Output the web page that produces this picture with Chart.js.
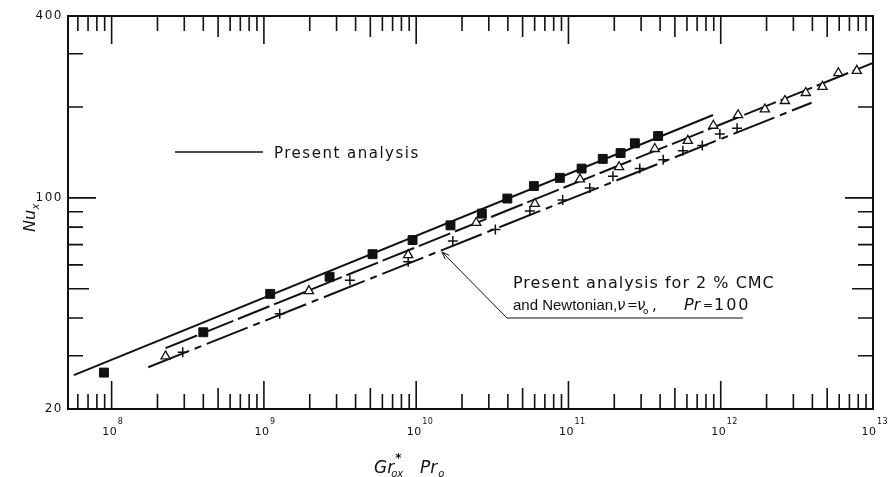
<!DOCTYPE html>
<html>
<head>
<meta charset="utf-8">
<script src="https://cdn.jsdelivr.net/npm/chart.js@4.4.0/dist/chart.umd.min.js"></script>
<style>
  html, body { margin: 0; padding: 0; background: #fff; }
  #wrap { width: 888px; height: 477px; position: relative; }
</style>
</head>
<body>
<div id="wrap"><canvas id="c"></canvas></div>
<script>
// ---- data (Gr*ox Pr0 vs Nu_x) ----
const squaresX = [8.9e7, 4.0e8, 1.1e9, 2.7e9, 5.17e9, 9.47e9, 1.68e10, 2.70e10, 3.97e10, 5.93e10, 8.78e10, 1.22e11, 1.68e11, 2.20e11, 2.73e11, 3.88e11];
const squaresY = [26.4, 35.9, 48.1, 54.8, 65.1, 72.5, 81.1, 88.7, 99.5, 109.4, 116.5, 125.0, 134.6, 140.7, 151.6, 160.2];

const trianglesX = [2.26e8, 1.975e9, 8.86e9, 2.48e10, 6.02e10, 1.19e11, 2.15e11, 3.69e11, 6.08e11, 8.94e11, 1.30e12, 1.95e12, 2.64e12, 3.62e12, 4.66e12, 5.92e12, 7.83e12];
const trianglesY = [29.9, 49.2, 64.7, 82.7, 95.6, 115.2, 126.5, 145.3, 154.6, 173.5, 188.0, 196.4, 209.5, 222.7, 233.4, 259.0, 263.7];

const plusesX = [2.93e8, 1.27e9, 3.67e9, 8.86e9, 1.74e10, 3.31e10, 5.58e10, 9.16e10, 1.38e11, 1.96e11, 2.94e11, 4.19e11, 5.64e11, 7.57e11, 9.87e11, 1.28e12];
const plusesY = [30.8, 41.3, 53.4, 61.4, 72.0, 78.6, 90.4, 98.3, 107.9, 117.8, 125.2, 133.7, 143.1, 149.0, 162.7, 169.9];

// analysis curves (end points)
const lineTopX = [5.65e7, 8.91e11];
const lineTopY = [25.9, 188.0];
const lineMidX = [2.26e8, 1e13];
const lineMidY = [31.8, 279.5];
const lineLowX = [1.74e8, 3.95e12];
const lineLowY = [27.5, 206.5];

// axes
const xMin = 5.17e7, xMax = 1e13;
const yMin = 20, yMax = 400;
const xMajorValues = [1e8, 1e9, 1e10, 1e11, 1e12, 1e13];
const xMajorExponents = ['8', '9', '10', '11', '12', '13'];
const yTickValues = [20, 30, 40, 50, 60, 70, 80, 90, 100, 200, 300, 400];
const yLabelValues = [20, 100, 400];
const yLabelTexts = ['20', '100', '400'];

// ---- helpers ----
const ink = '#111';
const FONT = '"DejaVu Sans", sans-serif';
const FONT2 = '"Liberation Sans", Arial, sans-serif';
const toPts = (xs, ys) => xs.map((v, i) => ({ x: v, y: ys[i] }));

// tick positions on x: mantissas 1..9 of every decade shown
const xTickValues = [];
for (let e = 7; e <= 12; e++) {
  for (let m = 1; m <= 9; m++) {
    const v = m * Math.pow(10, e);
    if (v > xMin && v <= xMax) xTickValues.push(v);
  }
}
xTickValues.push(1e13);

function mantissa(v) {
  const e = Math.floor(Math.log10(v) + 1e-9);
  return Math.round(v / Math.pow(10, e));
}
function tickLen(v) {
  const m = mantissa(v);
  if (m === 1) return 28;
  if (m === 5) return 21;
  return 15;
}

const decor = {
  id: 'decor',
  beforeDraw(chart) {
    chart.ctx.letterSpacing = '1.5px';
  },
  afterDraw(chart) {
    const { ctx, chartArea: a, scales: { x, y } } = chart;
    ctx.save();
    ctx.strokeStyle = ink;
    ctx.fillStyle = ink;

    // frame
    ctx.lineWidth = 2;
    ctx.strokeRect(a.left, a.top, a.right - a.left, a.bottom - a.top);

    // inward ticks on all four sides
    ctx.lineWidth = 1.6;
    ctx.beginPath();
    xTickValues.forEach(v => {
      const px = x.getPixelForValue(v);
      if (px <= a.left + 1 || px >= a.right - 1) return;
      const len = tickLen(v);
      ctx.moveTo(px, a.bottom); ctx.lineTo(px, a.bottom - len);
      ctx.moveTo(px, a.top); ctx.lineTo(px, a.top + len);
    });
    yTickValues.forEach(v => {
      const py = y.getPixelForValue(v);
      if (py <= a.top + 1 || py >= a.bottom - 1) return;
      const len = tickLen(v);
      ctx.moveTo(a.left, py); ctx.lineTo(a.left + len, py);
      ctx.moveTo(a.right, py); ctx.lineTo(a.right - len, py);
    });
    ctx.stroke();

    // x tick labels 10^n
    ctx.letterSpacing = '0.5px';
    ctx.textBaseline = 'alphabetic';
    ctx.textAlign = 'left';
    xMajorValues.forEach((v, i) => {
      const px = x.getPixelForValue(v);
      ctx.font = '11px ' + FONT;
      const w = ctx.measureText('10').width;
      const shift = i === xMajorValues.length - 1 ? 4 : 2;
      ctx.fillText('10', px - w / 2 - shift, 435);
      ctx.font = '8px ' + FONT;
      ctx.fillText(xMajorExponents[i], px + w / 2 - shift + 0.5, 424);
    });

    // axis titles
    ctx.letterSpacing = '0px';
    ctx.font = 'italic 17px ' + FONT;
    ctx.fillText('Gr', 374, 473);
    const wGr = ctx.measureText('Gr').width;
    ctx.font = 'bold 12px ' + FONT;
    ctx.fillText('*', 374 + wGr + 1, 462);
    ctx.font = 'italic 10px ' + FONT;
    ctx.fillText('ox', 374 + wGr - 3, 477);
    ctx.font = 'italic 17px ' + FONT;
    ctx.fillText('Pr', 420, 473);
    const wPr = ctx.measureText('Pr').width;
    ctx.font = 'italic 10px ' + FONT;
    ctx.fillText('o', 420 + wPr + 1, 477);

    ctx.save();
    ctx.translate(35, 232);
    ctx.rotate(-Math.PI / 2);
    ctx.font = 'italic 16px ' + FONT;
    ctx.fillText('Nu', 0, 0);
    const wNu = ctx.measureText('Nu').width;
    ctx.font = 'italic 10px ' + FONT;
    ctx.fillText('x', wNu + 0.5, 4);
    ctx.restore();

    // key: "—— Present analysis"
    ctx.lineWidth = 1.4;
    ctx.beginPath();
    ctx.moveTo(175, 152); ctx.lineTo(263, 152);
    ctx.stroke();
    ctx.letterSpacing = '1.5px';
    ctx.font = '15px ' + FONT;
    ctx.fillText('Present analysis', 274, 157.5);

    // annotation, line 1
    ctx.letterSpacing = '1px';
    ctx.font = '16px ' + FONT;
    ctx.fillText('Present analysis for 2 % CMC', 513, 288);
    // annotation, line 2
    ctx.letterSpacing = '0px';
    ctx.font = '15px ' + FONT2;
    ctx.fillText('and Newtonian,', 513, 310);
    ctx.font = 'italic 15px ' + FONT;
    ctx.fillText('\u03bd', 617, 310);
    ctx.font = '13px ' + FONT;
    ctx.fillText('=', 627, 309);
    ctx.font = 'italic 15px ' + FONT;
    ctx.fillText('\u03bd', 637, 310);
    ctx.font = '9px ' + FONT;
    ctx.fillText('o', 643, 314);
    ctx.font = '15px ' + FONT;
    ctx.fillText(',', 652, 310);
    ctx.font = 'italic 16px ' + FONT;
    ctx.fillText('Pr', 684, 310);
    ctx.font = '12px ' + FONT;
    ctx.fillText('=', 703, 309);
    ctx.letterSpacing = '2px';
    ctx.font = '16px ' + FONT;
    ctx.fillText('100', 714, 310);

    ctx.lineWidth = 1;
    ctx.beginPath();
    ctx.moveTo(743, 318); ctx.lineTo(507, 318); ctx.lineTo(442, 252);
    ctx.stroke();
    // arrow head
    const ang = Math.atan2(318 - 252, 507 - 442);
    ctx.beginPath();
    ctx.moveTo(442 + 8 * Math.cos(ang + 0.35), 252 + 8 * Math.sin(ang + 0.35));
    ctx.lineTo(442, 252);
    ctx.lineTo(442 + 8 * Math.cos(ang - 0.35), 252 + 8 * Math.sin(ang - 0.35));
    ctx.stroke();

    ctx.restore();
  }
};

new Chart(document.getElementById('c'), {
  type: 'scatter',
  data: {
    datasets: [
      { label: 'squares', data: toPts(squaresX, squaresY), pointStyle: 'rect', pointRadius: 6.3,
        backgroundColor: ink, borderColor: ink, borderWidth: 1, showLine: false },
      { label: 'triangles', data: toPts(trianglesX, trianglesY), pointStyle: 'triangle', pointRadius: 5.3,
        backgroundColor: '#fff', borderColor: ink, borderWidth: 1.3, showLine: false },
      { label: 'pluses', data: toPts(plusesX, plusesY), pointStyle: 'cross', pointRadius: 5,
        backgroundColor: ink, borderColor: ink, borderWidth: 1.5, showLine: false },
      { label: 'analysis top', data: toPts(lineTopX, lineTopY), showLine: true, pointRadius: 0,
        borderColor: ink, borderWidth: 2, fill: false },
      { label: 'analysis mid', data: toPts(lineMidX, lineMidY), showLine: true, pointRadius: 0,
        borderColor: ink, borderWidth: 2, fill: false, borderDash: [34, 5] },
      { label: 'analysis low', data: toPts(lineLowX, lineLowY), showLine: true, pointRadius: 0,
        borderColor: ink, borderWidth: 2, fill: false, borderDash: [44, 6, 7, 6] }
    ]
  },
  options: {
    responsive: true,
    maintainAspectRatio: false,
    animation: false,
    devicePixelRatio: 1,
    layout: { padding: { top: 16, right: 15, left: 0, bottom: 0 } },
    plugins: { legend: { display: false }, tooltip: { enabled: false } },
    scales: {
      x: {
        type: 'logarithmic', min: xMin, max: xMax, bounds: 'data',
        afterFit: s => { s.height = 68; },
        grid: { display: false, drawTicks: false },
        border: { display: false },
        ticks: { display: false }
      },
      y: {
        type: 'logarithmic', min: yMin, max: yMax, bounds: 'data',
        afterBuildTicks: s => { s.ticks = yTickValues.map(v => ({ value: v })); },
        afterFit: s => { s.width = 68; },
        grid: { display: false, drawTicks: false },
        border: { display: false },
        ticks: {
          autoSkip: false, padding: 5, color: ink,
          font: { family: 'DejaVu Sans', size: 12 },
          callback: v => {
            const i = yLabelValues.findIndex(t => Math.abs(t - v) < 1e-6);
            return i >= 0 ? yLabelTexts[i] : '';
          }
        }
      }
    }
  },
  plugins: [decor]
});
</script>
</body>
</html>
